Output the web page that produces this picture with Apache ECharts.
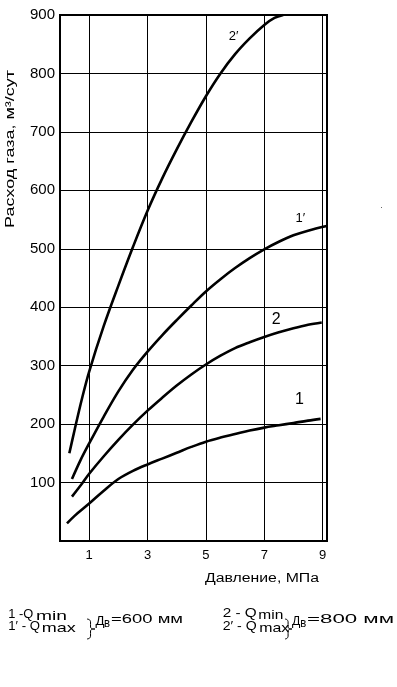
<!DOCTYPE html>
<html><head><meta charset="utf-8">
<script src="https://cdn.jsdelivr.net/npm/echarts@6/dist/echarts.min.js"></script>
<style>html,body{margin:0;padding:0;background:#fff}#c{width:397px;height:687px}</style>
</head><body><div id="c"></div>
<script>
// ---- data ----
const xTicks = [1, 3, 5, 7, 9];
const yMax = 900, yStep = 100;

// curve 1 : Qmin, Dв=600
const p1 = [0.24, 0.5, 1, 1.5, 2, 2.5, 3, 3.5, 4, 4.5, 5, 5.5, 6, 6.5, 7, 7.5, 8, 8.5, 8.93];
const q1 = [30, 43, 64, 86, 106, 120, 131, 141, 151, 161, 170, 177, 183, 189, 194, 198, 202, 206, 209];
// curve 1' : Qmax, Dв=600
const p1m = [0.41, 0.7, 1, 1.5, 2, 2.5, 3, 3.5, 4, 4.5, 5, 5.5, 6, 6.5, 7, 7.5, 8, 8.5, 9.14];
const q1m = [106, 138, 167, 213, 256, 293, 324, 352, 378, 403, 427, 448, 467, 484, 499, 512, 523, 531, 539];
// curve 2 : Qmin, Dв=800
const p2 = [0.41, 0.75, 1, 1.5, 2, 2.5, 3, 3.5, 4, 4.5, 5, 5.5, 6, 6.5, 7, 7.5, 8, 8.5, 8.97];
const q2 = [76, 98, 115, 145, 173, 199, 223, 245, 266, 285, 302, 317, 330, 340, 349, 357, 364, 370, 374];
// curve 2' : Qmax, Dв=800
const p2m = [0.32, 0.5, 0.75, 1, 1.5, 2, 2.5, 3, 3.5, 4, 4.5, 5, 5.5, 6, 6.5, 7, 7.35, 7.65];
const q2m = [150, 190, 243, 290, 368, 437, 503, 565, 620, 670, 717, 761, 800, 833, 860, 883, 895, 900];

const curveNames = ['1', '1′', '2', '2′'];

// ---- rendering ----
const FONT = '"Liberation Sans", Arial, sans-serif';
const mctx = document.createElement('canvas').getContext('2d');
function adv(s, size) { mctx.font = size + 'px ' + FONT; return mctx.measureText(s).width; }
function txt(s, left, baseline, width, size) {
  return {
    type: 'text', x: left, y: baseline - 0.35 * size, scaleX: width / adv(s, size), silent: true,
    style: { text: s, font: size + 'px ' + FONT, fill: '#000',
      textAlign: 'left', textVerticalAlign: 'middle', align: 'left', verticalAlign: 'middle' }
  };
}
const braceShape = [[0,0],[2.3,0.7],[3.4,2.7],[3.4,8.2],[4.4,9.5],[7.7,10],[4.4,10.5],[3.4,11.8],[3.4,17.3],[2.3,19.3],[0,20]];
function brace(x, y, w, h) {
  return {
    type: 'polyline', silent: true,
    shape: { points: braceShape.map(p => [x + p[0] * w / 7.7, y + p[1] * h / 20]), smooth: 0.3 },
    style: { fill: null, stroke: '#000', lineWidth: 1 }
  };
}
const pairs = (xs, ys) => xs.map((x, i) => [x, ys[i]]);

function lineSeries(name, xs, ys, lbl, lblSize) {
  return {
    type: 'line', name: name, data: pairs(xs, ys), showSymbol: false, symbol: 'none',
    smooth: 0.35, silent: true,
    lineStyle: { color: '#000', width: 2.6 },
    markPoint: {
      symbol: 'circle', symbolSize: 1, itemStyle: { color: 'rgba(0,0,0,0)' }, silent: true,
      label: { show: true, position: 'inside', formatter: '{b}', color: '#000', fontSize: lblSize, fontFamily: FONT },
      data: [{ name: name, coord: lbl }]
    }
  };
}

const yTitle = 'Расход газа, м³/сут';
const chart = echarts.init(document.getElementById('c'), null, { renderer: 'canvas' });
chart.setOption({
  animation: false,
  backgroundColor: '#fff',
  grid: { left: 60, right: 70, top: 15, bottom: 146, show: true, borderColor: '#000', borderWidth: 2 },
  xAxis: {
    type: 'value', min: 0, max: 9.15,
    axisLine: { show: false },
    axisTick: { show: false, customValues: xTicks },
    axisLabel: { customValues: xTicks, color: '#000', fontSize: 13, fontFamily: FONT, margin: 8 },
    splitLine: { show: true, lineStyle: { color: '#000', width: 1 } }
  },
  yAxis: {
    type: 'value', min: 0, max: yMax, interval: yStep,
    axisLine: { show: false }, axisTick: { show: false },
    axisLabel: { color: '#000', fontSize: 15, fontFamily: FONT, margin: 5,
      formatter: v => (v === 0 ? '' : String(v)) },
    splitLine: { show: true, lineStyle: { color: '#000', width: 1 } }
  },
  series: [
    lineSeries(curveNames[0], p1, q1, [8.21, 242.6], 16),
    lineSeries(curveNames[1], p1m, q1m, [8.24, 551.5], 13),
    lineSeries(curveNames[2], p2, q2, [7.41, 379.5], 16),
    lineSeries(curveNames[3], p2m, q2m, [5.95, 864], 13)
  ],
  graphic: [
    // axis titles
    txt('Давление, МПа', 205, 582.7, 114, 12.5),
    { type: 'text', x: 10.8, y: 149, rotation: Math.PI / 2, scaleX: 158 / adv(yTitle, 12.5), silent: true,
      style: { text: yTitle, font: '12.5px ' + FONT, fill: '#000',
        textAlign: 'center', textVerticalAlign: 'middle', align: 'center', verticalAlign: 'middle' } },
    // legend, left block
    txt('1 -Q', 8.3, 619, 25, 13),
    txt('min', 36, 621, 31, 13),
    txt('1′ - Q', 8.3, 630.5, 31.7, 13),
    txt('max', 41.7, 632.5, 34, 13),
    brace(87, 619, 8, 20),
    txt('Д', 95.5, 625.5, 9, 13),
    txt('в', 104, 627.5, 6, 13),
    txt('=600 мм', 111, 623.8, 72, 13),
    // legend, right block
    txt('2 - Q', 222.7, 617.5, 34, 13),
    txt('min', 258.3, 619.5, 25, 13),
    txt('2′ - Q', 222.7, 630.5, 34, 13),
    txt('max', 259.3, 633, 30, 13),
    brace(285, 619, 7, 20),
    txt('Д', 292, 625.5, 8.3, 13),
    txt('в', 300.3, 627.5, 6, 13),
    txt('=800 мм', 307, 623.8, 87, 13),
    // stray speck in the scan
    { type: 'rect', silent: true, shape: { x: 381, y: 207, width: 1, height: 1 }, style: { fill: '#666' } }
  ]
});
</script>
</body></html>
